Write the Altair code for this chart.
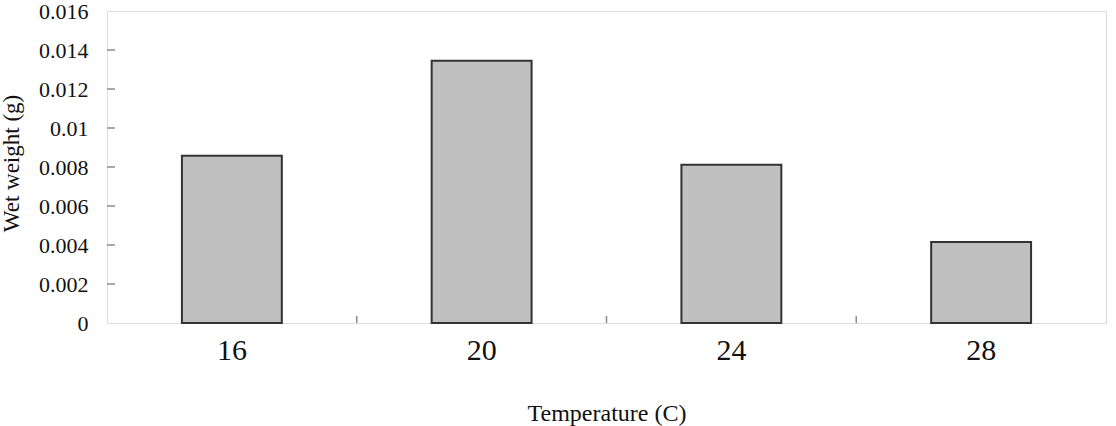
import altair as alt
import pandas as pd

temps = ["16", "20", "24", "28"]
weights = [0.00858, 0.01345, 0.00812, 0.00416]
y_tick_values = [0, 0.002, 0.004, 0.006, 0.008, 0.01, 0.012, 0.014, 0.016]

df = pd.DataFrame({"Temperature": temps, "Weight": weights})
yt = pd.DataFrame({"Weight": y_tick_values[1:-1]})
xt = pd.DataFrame({"Temperature": temps[1:]})

W, H = 999, 312
FONT = "Liberation Serif"

xscale = alt.Scale(domain=temps, paddingInner=0.6, paddingOuter=0.3)
yscale = alt.Scale(domain=[0, 0.016], nice=False)

yaxis = alt.Axis(title="Wet weight (g)", values=y_tick_values,
                 format="~g", labelFontSize=22, labelFont=FONT,
                 labelColor="#111", labelPadding=19, ticks=False,
                 domain=False, grid=False, titleFont=FONT,
                 titleFontSize=23, titleFontWeight="normal",
                 titleColor="#111", titleAngle=-90, titleX=-96,
                 titleY=152, titleAlign="center",
                 titleBaseline="middle")

bars = alt.Chart(df).mark_bar(
    fill="#c0c0c0", stroke="#333333", strokeWidth=2
).encode(
    x=alt.X("Temperature:N", scale=xscale, sort=temps,
            axis=alt.Axis(title="Temperature (C)", labelAngle=0, labelFontSize=30,
                          labelFont=FONT, labelColor="#111", labelPadding=12,
                          ticks=False, domain=False, titleFont=FONT,
                          titleFontSize=24, titleFontWeight="normal",
                          titleColor="#111", titleY=90, titleBaseline="middle")),
    y=alt.Y("Weight:Q", scale=yscale, axis=yaxis),
)

yticks = alt.Chart(yt).mark_rule(color="#8c8c8c", strokeWidth=1.5).encode(
    x=alt.value(0), x2=alt.value(8),
    y=alt.Y("Weight:Q", scale=yscale, axis=yaxis),
)

xticks = alt.Chart(xt).mark_rule(color="#8c8c8c", strokeWidth=1.5).encode(
    x=alt.X("Temperature:N", scale=alt.Scale(domain=temps, paddingInner=0,
                                             paddingOuter=0),
            bandPosition=0, axis=None),
    y=alt.value(H), y2=alt.value(H - 7),
)

chart = alt.layer(bars, yticks, xticks).resolve_scale(x="independent").properties(
    width=W, height=H,
    autosize=alt.AutoSizeParams(type="none"),
    padding={"left": 107, "top": 11, "right": 10, "bottom": 103},
).configure_view(stroke="#8c8c8c", strokeWidth=2).configure(background="white")

chart.save("out.html", embed_options={"renderer": "svg", "actions": False})
